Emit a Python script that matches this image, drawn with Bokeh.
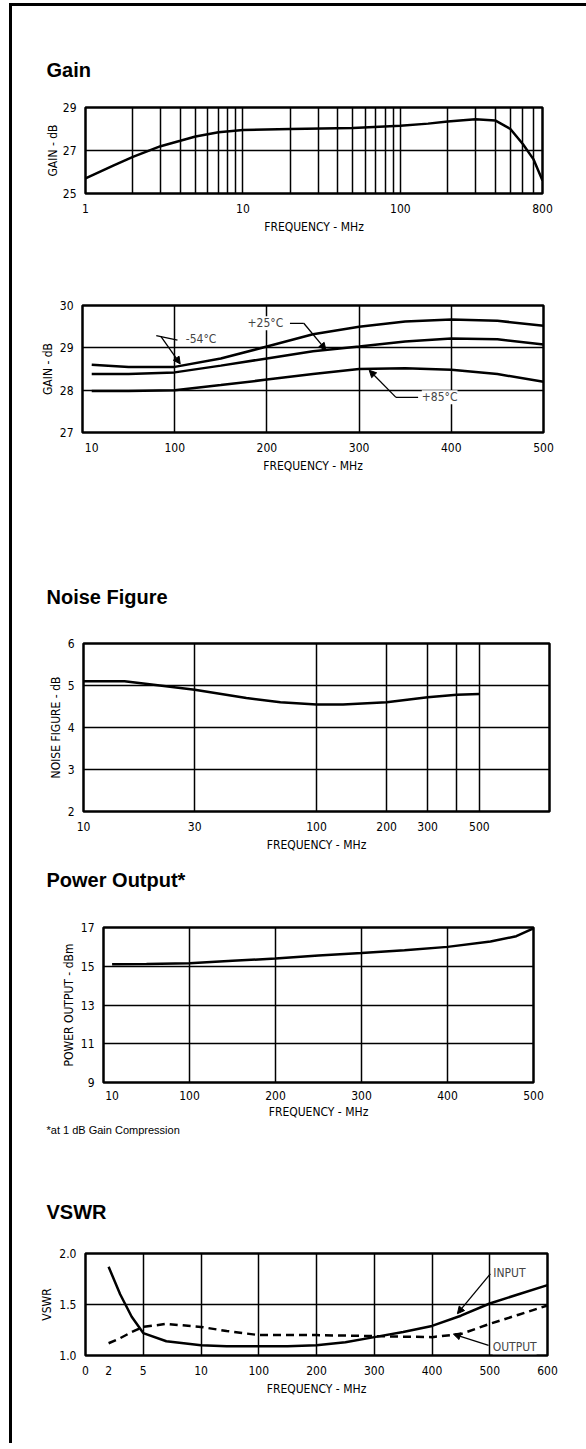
import numpy as np
from bokeh.plotting import figure
from bokeh.models import Range1d, FixedTicker, Title, Label, Arrow, NormalHead
from bokeh.layouts import column
from bokeh.embed import file_html
from bokeh.resources import INLINE

# ---------------- data ----------------
# Gain vs frequency (log axis 1..800 MHz)
gain_freq = [1, 1.5, 2, 3, 4, 5, 7, 10, 20, 50, 100, 150, 200, 300, 400, 500, 600, 700, 800]
gain_db = [25.7, 26.3, 26.7, 27.2, 27.45, 27.65, 27.85, 27.95, 28.0, 28.05, 28.15, 28.25, 28.35, 28.45, 28.4, 28.0, 27.3, 26.6, 25.6]
gain_xticks = [1, 10, 100, 800]
gain_yticks = [25, 27, 29]

# Gain vs temperature (linear 0..500 MHz)
temp_freq = [10, 50, 100, 150, 200, 250, 300, 350, 400, 450, 500]
temp_m54 = [28.6, 28.55, 28.55, 28.75, 29.03, 29.32, 29.5, 29.62, 29.67, 29.64, 29.52]
temp_p25 = [28.38, 28.38, 28.42, 28.58, 28.75, 28.92, 29.03, 29.15, 29.22, 29.2, 29.08]
temp_p85 = [27.98, 27.98, 28.0, 28.12, 28.25, 28.38, 28.5, 28.52, 28.48, 28.38, 28.2]
temp_xticks = [10, 100, 200, 300, 400, 500]
temp_yticks = [27, 28, 29, 30]
temp_labels = ["-54°C", "+25°C", "+85°C"]

# Noise figure (log axis 10..1000 MHz)
nf_freq = [10, 15, 20, 30, 50, 70, 100, 130, 200, 300, 400, 500]
nf_db = [5.1, 5.1, 5.02, 4.9, 4.7, 4.6, 4.55, 4.55, 4.6, 4.72, 4.78, 4.8]
nf_xticks = [10, 30, 100, 200, 300, 500]
nf_xgrid = [30, 100, 200, 300, 400, 500]
nf_yticks = [2, 3, 4, 5, 6]

# Power output (linear 0..500 MHz)
po_freq = [10, 50, 100, 150, 200, 250, 300, 350, 400, 450, 480, 500]
po_dbm = [15.1, 15.12, 15.15, 15.28, 15.4, 15.55, 15.68, 15.83, 16.0, 16.28, 16.55, 16.95]
po_xticks = [10, 100, 200, 300, 400, 500]
po_yticks = [9, 11, 13, 15, 17]

# VSWR (broken frequency axis)
vswr_axis_mhz = [0, 5, 10, 100, 200, 300, 400, 500, 600]
vswr_tick_mhz = [0, 2, 5, 10, 100, 200, 300, 400, 500, 600]
vswr_grid_mhz = [5, 10, 100, 200, 300, 400, 500]
vswr_in_freq = [2, 3, 4, 5, 7, 10, 50, 100, 150, 200, 250, 300, 350, 400, 450, 500, 550, 600]
vswr_in = [1.87, 1.6, 1.38, 1.22, 1.14, 1.10, 1.09, 1.09, 1.09, 1.10, 1.13, 1.18, 1.23, 1.29, 1.39, 1.51, 1.6, 1.69]
vswr_out_freq = [2, 3, 4, 5, 7, 10, 50, 100, 200, 300, 400, 450, 500, 550, 600]
vswr_out = [1.12, 1.17, 1.23, 1.28, 1.31, 1.28, 1.24, 1.2, 1.2, 1.19, 1.18, 1.21, 1.31, 1.4, 1.49]
vswr_yticks = [1.0, 1.5, 2.0]

FONT = "DejaVu Sans Condensed, DejaVu Sans"
TFONT = "Liberation Sans"
X0, Y0 = 12, 6          # page position of the layout content
W = 574
TITLE_X = 46


def vpos(mhz):
    return np.interp(mhz, vswr_axis_mhz, np.arange(len(vswr_axis_mhz)))


def make(h, fl, fr, top, bottom, xr, yr, xtype="linear", xlab="FREQUENCY - MHz",
         ylab="", ystand=2):
    p = figure(width=W, height=h, x_range=xr, y_range=yr, x_axis_type=xtype,
               output_backend="svg", toolbar_location=None,
               min_border_left=fl - X0, min_border_right=X0 + W - fr,
               min_border_top=top, min_border_bottom=bottom)
    p.frame_align = False
    p.outline_line_color = "black"
    p.outline_line_width = 2.5
    p.background_fill_color = "white"
    p.border_fill_color = "white"
    for ax in (p.xaxis, p.yaxis):
        ax.axis_line_color = None
        ax.major_tick_line_color = None
        ax.minor_tick_line_color = None
        ax.major_label_text_font = FONT
        ax.major_label_text_font_size = "12px"
        ax.major_label_text_color = "black"
        ax.axis_label_text_font = FONT
        ax.axis_label_text_font_size = "12px"
        ax.axis_label_text_font_style = "normal"
        ax.axis_label_text_color = "black"
    p.xaxis.axis_label = xlab
    p.yaxis.axis_label = ylab
    p.xaxis.major_label_standoff = 4
    p.xaxis.axis_label_standoff = 4
    p.yaxis.major_label_standoff = 3
    p.yaxis.axis_label_standoff = ystand
    for g in (p.xgrid, p.ygrid):
        g.grid_line_color = "black"
        g.grid_line_width = 1.5
        g.grid_line_alpha = 1.0
    return p


def heading(p, text, fl, standoff, side="above", valign="bottom", size="20px"):
    p.add_layout(Title(text=text, text_font=TFONT, text_font_style="bold", text_font_size=size,
                       text_color="black", align="left", offset=TITLE_X - fl,
                       standoff=standoff, vertical_align=valign), side)


def lbl(p, x, y, text, size="12px"):
    p.add_layout(Label(x=x, y=y, text=text, text_font=FONT, text_font_size=size,
                       text_baseline="middle", background_fill_color="white"))


def arrow(p, x0, y0, x1, y1):
    p.add_layout(Arrow(end=NormalHead(size=7, fill_color="black", line_color="black"),
                       x_start=x0, y_start=y0, x_end=x1, y_end=y1,
                       line_color="black", line_width=1.3))


# ---- Chart 1: Gain ----
p1 = make(234, 85, 542, 101, 47, Range1d(1, 800), Range1d(25, 29), xtype="log",
          ylab="GAIN - dB", ystand=0)
p1.xaxis.ticker = FixedTicker(ticks=gain_xticks)
p1.xaxis.major_label_overrides = {t: str(t) for t in gain_xticks}
p1.yaxis.ticker = FixedTicker(ticks=gain_yticks)
p1.xgrid.ticker = FixedTicker(ticks=[m * 10 ** k for k in (0, 1, 2) for m in range(1, 10) if m * 10 ** k <= 800])
p1.ygrid.ticker = FixedTicker(ticks=[27])
p1.line(gain_freq, gain_db, line_color="black", line_width=2.5)
heading(p1, "Gain", 85, 54)

# ---- Chart 2: Gain vs temperature ----
p2 = make(240, 82, 543, 65, 48, Range1d(0, 500), Range1d(27, 30), ylab="GAIN - dB", ystand=2)
p2.xaxis.ticker = FixedTicker(ticks=temp_xticks)
p2.yaxis.ticker = FixedTicker(ticks=temp_yticks)
p2.xgrid.ticker = FixedTicker(ticks=[100, 200, 300, 400])
p2.ygrid.ticker = FixedTicker(ticks=[28, 29])
for ys in (temp_m54, temp_p25, temp_p85):
    p2.line(temp_freq, ys, line_color="black", line_width=2.5)
lbl(p2, 112, 29.22, temp_labels[0])
p2.segment(x0=[80], y0=[29.29], x1=[103], y1=[29.18], line_color="black", line_width=1.3)
arrow(p2, 85, 29.27, 106, 28.62)
lbl(p2, 179, 29.58, temp_labels[1])
p2.segment(x0=[225], y0=[29.58], x1=[240], y1=[29.58], line_color="black", line_width=1.3)
arrow(p2, 240, 29.58, 264, 28.95)
lbl(p2, 368, 27.83, temp_labels[2])
p2.segment(x0=[364], y0=[27.83], x1=[340], y1=[27.83], line_color="black", line_width=1.3)
arrow(p2, 340, 27.83, 311, 28.47)

# ---- Chart 3: Noise figure (its lower border also carries the next heading) ----
p3 = make(435, 83, 549, 163, 104, Range1d(10, 1000), Range1d(2, 6), xtype="log",
          ylab="NOISE FIGURE - dB", ystand=2)
p3.xaxis.ticker = FixedTicker(ticks=nf_xticks)
p3.xaxis.major_label_overrides = {t: str(t) for t in nf_xticks}
p3.yaxis.ticker = FixedTicker(ticks=nf_yticks)
p3.xgrid.ticker = FixedTicker(ticks=nf_xgrid)
p3.ygrid.ticker = FixedTicker(ticks=[3, 4, 5])
p3.line(nf_freq, nf_db, line_color="black", line_width=2.5)
heading(p3, "Noise Figure", 83, 71)
heading(p3, "Power Output*", 83, 28, side="below", valign="top")

# ---- Chart 4: Power output ----
p4 = make(222, 103, 533, 12, 55, Range1d(0, 500), Range1d(9, 17),
          ylab="POWER OUTPUT - dBm", ystand=2)
p4.xaxis.major_label_standoff = 2
p4.xaxis.axis_label_standoff = 2
p4.xaxis.ticker = FixedTicker(ticks=po_xticks)
p4.yaxis.ticker = FixedTicker(ticks=po_yticks)
p4.xgrid.ticker = FixedTicker(ticks=[100, 200, 300, 400])
p4.ygrid.ticker = FixedTicker(ticks=[11, 13, 15])
p4.line(po_freq, po_dbm, line_color="black", line_width=2.5)
p4.add_layout(Title(text="*at 1 dB Gain Compression", text_font=TFONT, text_font_size="11px",
                    text_font_style="normal", text_color="black", align="left",
                    offset=TITLE_X - 103, standoff=0), "below")

# ---- Chart 5: VSWR ----
p5 = make(306, 85, 547, 116, 88, Range1d(0, 8), Range1d(1.0, 2.0), ylab="VSWR", ystand=2)
p5.xaxis.ticker = FixedTicker(ticks=list(vpos(vswr_tick_mhz)))
p5.xaxis.major_label_overrides = {float(v): str(m) for v, m in zip(vpos(vswr_tick_mhz), vswr_tick_mhz)}
p5.yaxis.ticker = FixedTicker(ticks=vswr_yticks)
p5.yaxis.major_label_overrides = {1.0: "1.0", 1.5: "1.5", 2.0: "2.0"}
p5.xgrid.ticker = FixedTicker(ticks=list(vpos(vswr_grid_mhz)))
p5.ygrid.ticker = FixedTicker(ticks=[1.5])
p5.line(vpos(vswr_in_freq), vswr_in, line_color="black", line_width=2.5)
p5.line(vpos(vswr_out_freq), vswr_out, line_color="black", line_width=2.5, line_dash="8 5")
lbl(p5, float(vpos(506)), 1.81, "INPUT")
arrow(p5, float(vpos(501)), 1.80, float(vpos(444)), 1.41)
lbl(p5, float(vpos(505)), 1.08, "OUTPUT")
arrow(p5, float(vpos(498)), 1.10, float(vpos(437)), 1.21)
heading(p5, "VSWR", 85, 61)

layout = column(p1, p2, p3, p4, p5, spacing=0,
                styles={"position": "absolute", "left": "9px", "top": "3px",
                        "border-left": "3px solid black", "border-top": "3px solid black"})

open("out.html", "w").write(file_html(layout, INLINE))
